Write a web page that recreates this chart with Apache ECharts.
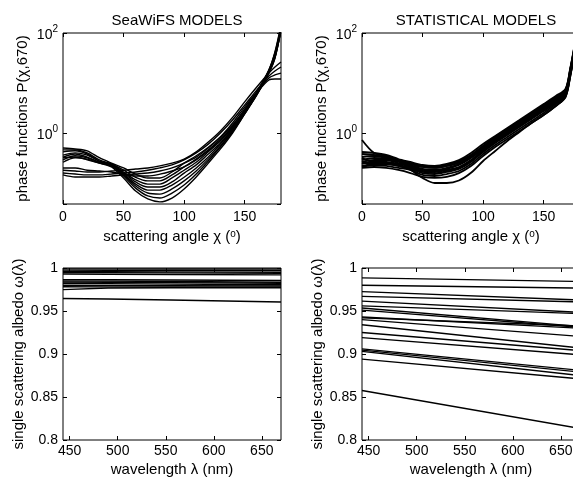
<!DOCTYPE html>
<html><head><meta charset="utf-8">
<script src="https://cdn.jsdelivr.net/npm/echarts@6/dist/echarts.min.js"></script>
<style>html,body{margin:0;padding:0;background:#fff}#c{width:573px;height:481px}</style>
</head><body><div id="c"></div>
<script>
// ---------- data ----------
const panelTitles = ['SeaWiFS MODELS', 'STATISTICAL MODELS'];
const angleTicks = [0, 50, 100, 150];
const phaseTicks = [1, 100];
const wavelengthTicks = [450, 500, 550, 600, 650];

// scattering angles (deg) for the SeaWiFS phase functions
const anglesSeaWiFS = [0,10,20,30,40,50,60,70,80,90,100,110,120,130,140,150,160,170,175,180];
const phaseSeaWiFS = [
  [0.50,0.48,0.44,0.32,0.25,0.20,0.15,0.126,0.126,0.166,0.25,0.35,0.52,0.83,1.45,2.9,6.6,18.2,41.7,145],
  [0.46,0.46,0.40,0.29,0.24,0.18,0.13,0.11,0.11,0.145,0.21,0.30,0.46,0.76,1.32,2.75,6.6,18.2,39.8,138],
  [0.42,0.44,0.38,0.275,0.24,0.166,0.115,0.095,0.095,0.126,0.18,0.26,0.42,0.69,1.26,2.63,6.3,17.4,38,126],
  [0.36,0.40,0.36,0.275,0.23,0.158,0.105,0.083,0.083,0.105,0.158,0.23,0.38,0.63,1.2,2.63,6.3,17.4,36.3,120],
  [0.33,0.38,0.33,0.26,0.23,0.15,0.095,0.072,0.072,0.091,0.13,0.20,0.33,0.60,1.15,2.5,6.0,16.6,34.7,115],
  [0.29,0.35,0.32,0.26,0.22,0.145,0.087,0.063,0.060,0.076,0.11,0.174,0.30,0.55,1.1,2.5,6.0,16.6,33.1,110],
  [0.26,0.32,0.30,0.25,0.22,0.138,0.079,0.055,0.050,0.063,0.091,0.151,0.275,0.525,1.05,2.4,5.75,15.8,31.6,120],
  [0.32,0.33,0.29,0.25,0.21,0.126,0.069,0.048,0.042,0.050,0.076,0.132,0.25,0.48,1.0,2.4,5.75,15.8,31.6,115],
  [0.18,0.174,0.166,0.166,0.174,0.18,0.19,0.20,0.22,0.25,0.30,0.42,0.66,1.1,2.05,4.2,8.3,15.8,20.9,26.3],
  [0.158,0.151,0.145,0.145,0.151,0.158,0.166,0.18,0.20,0.23,0.29,0.40,0.60,1.0,1.82,3.6,7.2,13.8,17.4,20.9],
  [0.145,0.132,0.132,0.132,0.138,0.145,0.151,0.158,0.174,0.20,0.25,0.33,0.50,0.83,1.58,3.3,6.6,12.6,14.5,15.8],
  [0.20,0.20,0.18,0.174,0.166,0.15,0.138,0.138,0.15,0.174,0.21,0.29,0.44,0.72,1.38,3.0,6.3,11.5,12.0,12.0]
];

// scattering angles (deg) for the statistical phase functions
const anglesStatistical = [0,10,20,30,40,50,60,70,80,90,100,110,120,130,140,150,160,168,172,176,180];
const phaseStatistical = [
  [0.417,0.398,0.363,0.302,0.263,0.229,0.219,0.240,0.288,0.398,0.603,0.871,1.26,1.82,2.63,3.80,5.50,7.59,20.0,66.1,219],
  [0.380,0.363,0.331,0.288,0.251,0.219,0.209,0.229,0.275,0.363,0.550,0.832,1.20,1.74,2.51,3.63,5.25,7.24,19.1,63.1,209],
  [0.331,0.347,0.316,0.275,0.240,0.209,0.200,0.219,0.251,0.347,0.525,0.794,1.148,1.66,2.40,3.47,5.01,6.92,18.2,60.3,200],
  [0.288,0.316,0.302,0.263,0.229,0.191,0.182,0.200,0.240,0.331,0.501,0.759,1.096,1.585,2.29,3.31,4.79,6.61,17.4,57.5,191],
  [0.263,0.288,0.288,0.251,0.219,0.182,0.174,0.191,0.229,0.316,0.479,0.724,1.047,1.51,2.19,3.16,4.57,6.31,16.6,55.0,182],
  [0.240,0.275,0.263,0.240,0.209,0.174,0.166,0.182,0.209,0.288,0.457,0.692,1.0,1.445,2.09,3.02,4.37,6.31,16.6,55.0,182],
  [0.316,0.263,0.251,0.229,0.200,0.166,0.158,0.174,0.200,0.275,0.437,0.661,0.955,1.38,2.0,2.88,4.17,6.03,15.8,52.5,174],
  [0.219,0.240,0.240,0.219,0.191,0.158,0.151,0.166,0.191,0.263,0.417,0.631,0.912,1.318,1.905,2.75,3.98,5.75,15.1,50.1,166],
  [0.209,0.229,0.219,0.200,0.182,0.145,0.138,0.151,0.174,0.240,0.380,0.575,0.832,1.20,1.74,2.51,3.80,5.50,14.5,47.9,158],
  [0.200,0.209,0.200,0.182,0.158,0.132,0.126,0.132,0.158,0.219,0.347,0.525,0.759,1.096,1.585,2.29,3.47,5.25,13.8,45.7,151],
  [0.251,0.251,0.240,0.219,0.182,0.126,0.100,0.100,0.112,0.160,0.275,0.437,0.692,1.047,1.585,2.29,3.47,5.25,13.8,45.7,151],
  [0.724,0.398,0.347,0.288,0.240,0.209,0.200,0.219,0.263,0.363,0.550,0.832,1.20,1.74,2.51,3.63,5.25,7.24,19.1,63.1,209]
];

// wavelengths (nm) and single scattering albedo
const wavelengthsSeaWiFS = [443, 490, 555, 670];
const albedoSeaWiFS = [
  [0.9990, 0.9990, 0.9989, 0.9988],
  [0.9975, 0.9974, 0.9972, 0.9970],
  [0.9960, 0.9958, 0.9955, 0.9950],
  [0.9948, 0.9946, 0.9943, 0.9938],
  [0.9930, 0.9928, 0.9925, 0.9920],
  [0.9865, 0.9863, 0.9860, 0.9855],
  [0.9850, 0.9847, 0.9843, 0.9835],
  [0.9838, 0.9835, 0.9830, 0.9822],
  [0.9822, 0.9818, 0.9813, 0.9805],
  [0.9800, 0.9798, 0.9795, 0.9790],
  [0.9782, 0.9781, 0.9779, 0.9776],
  [0.9748, 0.9768, 0.9770, 0.9771],
  [0.9645, 0.9640, 0.9628, 0.9605]
];
const wavelengthsStatistical = [443, 670];
const albedoStatistical = [
  [0.9885, 0.9843],
  [0.9800, 0.9766],
  [0.9725, 0.9628],
  [0.9670, 0.9605],
  [0.9615, 0.9485],
  [0.9560, 0.9470],
  [0.9535, 0.9320],
  [0.9510, 0.9310],
  [0.9430, 0.9300],
  [0.9420, 0.9325],
  [0.9400, 0.9205],
  [0.9340, 0.9070],
  [0.9250, 0.9040],
  [0.9190, 0.8990],
  [0.9060, 0.8810],
  [0.9045, 0.8790],
  [0.9030, 0.8750],
  [0.8940, 0.8710],
  [0.8575, 0.8135]
];

// ---------- chart ----------
const FONT = '"Liberation Sans", Arial, Helvetica, sans-serif';
const BLACK = '#000';
const chart = echarts.init(document.getElementById('c'), null, {renderer: 'canvas'});

const gridBoxes = [
  {left: 63, top: 33, width: 218, height: 171},
  {left: 362, top: 33, width: 218, height: 171},
  {left: 63, top: 268, width: 218, height: 172},
  {left: 362, top: 268, width: 218, height: 172}
];
const grid = gridBoxes.map(g => Object.assign({show: true, borderColor: BLACK, borderWidth: 1,
  backgroundColor: 'transparent', containLabel: false, outerBoundsMode: 'none'}, g));

const tick = {show: true, inside: true, length: 4, lineStyle: {color: BLACK, width: 1}};
const supRich = {
  n: {fontSize: 14, lineHeight: 18, verticalAlign: 'bottom', color: BLACK, fontFamily: FONT},
  s: {fontSize: 10, lineHeight: 10, verticalAlign: 'top', color: BLACK, fontFamily: FONT}
};
const nameRich = {
  s: {fontSize: 10, lineHeight: 10, verticalAlign: 'top', color: BLACK, fontFamily: FONT}
};

function angleAxis(gi, mirror) {
  return {
    type: 'value', gridIndex: gi, position: mirror ? 'top' : 'bottom', min: 0, max: 180,
    axisLine: {show: false, onZero: false}, splitLine: {show: false},
    axisTick: Object.assign({customValues: angleTicks}, tick),
    axisLabel: {show: !mirror, customValues: angleTicks, margin: 6, color: BLACK, fontSize: 14, fontFamily: FONT},
    name: mirror ? '' : 'scattering angle χ ({s|o})', nameLocation: 'middle', nameGap: 25,
    nameTextStyle: {color: BLACK, fontSize: 15, fontFamily: FONT, rich: nameRich}
  };
}
function wavelengthAxis(gi, mirror) {
  return {
    type: 'value', gridIndex: gi, position: mirror ? 'top' : 'bottom', min: 443, max: 670,
    axisLine: {show: false, onZero: false}, splitLine: {show: false},
    axisTick: Object.assign({customValues: wavelengthTicks}, tick),
    axisLabel: {show: !mirror, customValues: wavelengthTicks, margin: 4, color: BLACK, fontSize: 14, fontFamily: FONT},
    name: mirror ? '' : 'wavelength λ (nm)', nameLocation: 'middle', nameGap: 22,
    nameTextStyle: {color: BLACK, fontSize: 15, fontFamily: FONT}
  };
}
function phaseAxis(gi, mirror) {
  return {
    type: 'log', logBase: 100, gridIndex: gi, position: mirror ? 'right' : 'left', min: 0.038, max: 100,
    axisLine: {show: false, onZero: false}, splitLine: {show: false}, minorTick: {show: false},
    axisTick: tick,
    axisLabel: {show: !mirror, margin: 5, color: BLACK, fontFamily: FONT, rich: supRich,
      formatter: v => {
        const e = Math.log10(v), r = Math.round(e);
        return (phaseTicks.indexOf(Math.pow(10, r)) >= 0 && Math.abs(e - r) < 1e-6) ? '{n|10}{s|' + r + '}' : '';
      }},
    name: mirror ? '' : 'phase functions P(χ,670)', nameLocation: 'middle', nameGap: 33,
    nameTextStyle: {color: BLACK, fontSize: 15, fontFamily: FONT}
  };
}
function albedoAxis(gi, mirror) {
  return {
    type: 'value', gridIndex: gi, position: mirror ? 'right' : 'left', min: 0.8, max: 1, interval: 0.05,
    axisLine: {show: false, onZero: false}, splitLine: {show: false},
    axisTick: tick,
    axisLabel: {show: !mirror, margin: 5, color: BLACK, fontSize: 14, fontFamily: FONT},
    name: mirror ? '' : 'single scattering albedo ω(λ)', nameLocation: 'middle', nameGap: 33,
    nameTextStyle: {color: BLACK, fontSize: 15, fontFamily: FONT}
  };
}

const xAxis = [angleAxis(0,false), angleAxis(0,true), angleAxis(1,false), angleAxis(1,true),
               wavelengthAxis(2,false), wavelengthAxis(2,true), wavelengthAxis(3,false), wavelengthAxis(3,true)];
const yAxis = [phaseAxis(0,false), phaseAxis(0,true), phaseAxis(1,false), phaseAxis(1,true),
               albedoAxis(2,false), albedoAxis(2,true), albedoAxis(3,false), albedoAxis(3,true)];

const series = [];
function addLines(xs, rows, panel, smooth, width) {
  rows.forEach(row => {
    series.push({
      type: 'line', xAxisIndex: panel * 2, yAxisIndex: panel * 2,
      data: xs.map((x, i) => [x, row[i]]),
      symbol: 'none', smooth: smooth, clip: true,
      lineStyle: {color: BLACK, width: width}, emphasis: {disabled: true}, silent: true
    });
  });
}
addLines(anglesSeaWiFS, phaseSeaWiFS, 0, 0.3, 1.4);
addLines(anglesStatistical, phaseStatistical, 1, 0.3, 1.8);
addLines(wavelengthsSeaWiFS, albedoSeaWiFS, 2, false, 1.4);
addLines(wavelengthsStatistical, albedoStatistical, 3, false, 1.4);

chart.setOption({
  animation: false,
  backgroundColor: '#fff',
  textStyle: {fontFamily: FONT, color: BLACK},
  title: [
    {text: panelTitles[0], left: 172, top: 8, textAlign: 'center', textStyle: {fontSize: 15, fontWeight: 'normal', color: BLACK, fontFamily: FONT}},
    {text: panelTitles[1], left: 471, top: 8, textAlign: 'center', textStyle: {fontSize: 15, fontWeight: 'normal', color: BLACK, fontFamily: FONT}}
  ],
  grid, xAxis, yAxis, series
});
</script>
</body></html>
